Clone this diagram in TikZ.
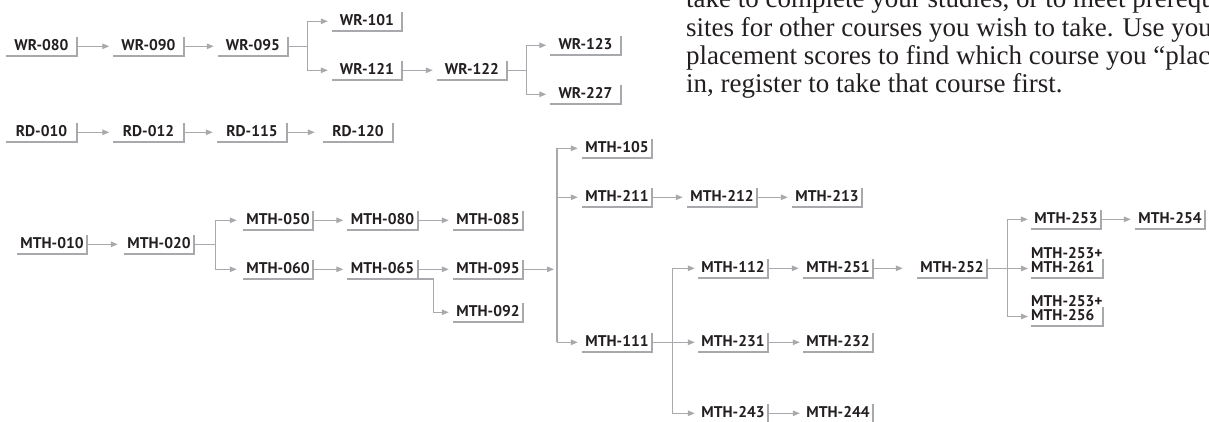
\documentclass[tikz,border=0pt]{standalone}
\usepackage{fontspec}
\usetikzlibrary{arrows.meta, calc}
\newfontfamily\coursefont{PT Sans Bold}
\newfontfamily\bodyfont{Liberation Serif}
\definecolor{inkdark}{HTML}{231F20}
\definecolor{rulegray}{HTML}{A7A9AC}

\begin{document}
\begin{tikzpicture}[
    x=1pt, y=-1pt,
    every node/.style={inner sep=0pt},
    rule/.style={draw=rulegray, line width=2pt},
    link/.style={draw=rulegray, line width=1.3pt, -{Triangle[length=7pt,width=5.5pt]}, shorten >=4pt},
    rulebox/.style={anchor=south, font=\coursefont\fontsize{15.5}{18}\selectfont, text=inkdark,
      minimum width=70pt,
      append after command={\pgfextra{\draw[rule] ([yshift=19pt]\tikzlastnode.south east)
        -- (\tikzlastnode.south east) -- (\tikzlastnode.south west);}}},
    course/.style={rulebox, minimum height=19pt, text height=11pt, text depth=2pt},
    pair/.style={rulebox, align=left, inner ysep=5pt},
    leaf/.style={anchor=base west, font=\bodyfont\fontsize{27}{28}\selectfont, text=inkdark},
  ]
  \useasboundingbox (0,0) rectangle (1209,422);

  % note text, cut off by the page edge
  \node[leaf] (note1) at (686,8) {take to complete your studies, or to meet prerequi-};
  \node[leaf] (note2) at (686,37) {sites for other courses you wish to take. Use your};
  \node[leaf] (note3) at (686,65) {placement scores to find which course you “placed”};
  \node[leaf] (note4) at (686,93) {in, register to take that course first.};

  % writing
  \node[course] (wr080) at (41.5,56) {WR-080};
  \node[course] (wr090) at (148.5,56) {WR-090};
  \node[course] (wr095) at (253,56) {WR-095};
  \node[course] (wr101) at (367,31) {WR-101};
  \node[course] (wr121) at (367,80) {WR-121};
  \node[course] (wr122) at (472,80) {WR-122};
  \node[course] (wr123) at (585.5,55) {WR-123};
  \node[course] (wr227) at (585.5,104) {WR-227};
  \draw[link] (wr080) -- (wr090);
  \draw[link] (wr090) -- (wr095);
  \draw[link] (wr095.east) -- ++(19,0) |- (wr101.west);
  \draw[link] (wr095.east) -- ++(19,0) |- (wr121.west);
  \draw[link] (wr121) -- (wr122);
  \draw[link] (wr122.east) -- ++(19,0) |- (wr123.west);
  \draw[link] (wr122.east) -- ++(19,0) |- (wr227.west);

  % reading
  \node[course] (rd010) at (41.5,142) {RD-010};
  \node[course] (rd012) at (148.5,142) {RD-012};
  \node[course] (rd115) at (252,142) {RD-115};
  \node[course] (rd120) at (358,142) {RD-120};
  \draw[link] (rd010) -- (rd012);
  \draw[link] (rd012) -- (rd115);
  \draw[link, shorten >=8pt] (rd115) -- (rd120);

  % math
  \node[course] (m010) at (52,254) {MTH-010};
  \node[course] (m020) at (159,254) {MTH-020};
  \node[course] (m050) at (278,230) {MTH-050};
  \node[course] (m060) at (278,279) {MTH-060};
  \node[course] (m080) at (382.5,230) {MTH-080};
  \node[course] (m065) at (382.5,279) {MTH-065};
  \node[course] (m085) at (488,230) {MTH-085};
  \node[course] (m095) at (488,279) {MTH-095};
  \node[course] (m092) at (488,322) {MTH-092};
  \node[course] (m105) at (617,158) {MTH-105};
  \node[course] (m211) at (617,207) {MTH-211};
  \node[course] (m212) at (722,207) {MTH-212};
  \node[course] (m213) at (827,207) {MTH-213};
  \node[course] (m111) at (617,352) {MTH-111};
  \node[course] (m112) at (733,278) {MTH-112};
  \node[course] (m251) at (838,278) {MTH-251};
  \node[course] (m252) at (952,278) {MTH-252};
  \node[course] (m231) at (733,352) {MTH-231};
  \node[course] (m232) at (838,352) {MTH-232};
  \node[course] (m243) at (733,423) {MTH-243};
  \node[course] (m244) at (838,423) {MTH-244};
  \node[course] (m253) at (1066,229) {MTH-253};
  \node[course] (m254) at (1170,229) {MTH-254};
  \node[pair, anchor=south west] (m261) at (1031,278) {MTH-253+\\[-4pt]MTH-261};
  \node[pair, anchor=south west] (m256) at (1031,326) {MTH-253+\\[-4pt]MTH-256};
  \coordinate (spine) at (557,0);

  \draw[link, shorten >=6pt] (m010) -- (m020);
  \draw[link, shorten >=6pt] (m020.east) -- ++(21,0) |- (m050.west);
  \draw[link, shorten >=6pt] (m020.east) -- ++(21,0) |- (m060.west);
  \draw[link] (m050) -- (m080);
  \draw[link] (m080) -- (m085);
  \draw[link] (m060) -- (m065);
  \draw[link] (m065) -- (m095);
  \draw[link] (m065.south east) -- ++(16,0) |- (m092.west);
  \draw[link, shorten >=3pt] (m095.east) -- (m095.east -| spine);
  \draw[link] (spine |- m111.west) |- (m105.west);
  \draw[link] (spine |- m111.west) |- (m211.west);
  \draw[link] (spine |- m111.west) -- (m111.west);
  \draw[link] (m211) -- (m212);
  \draw[link] (m212) -- (m213);
  \draw[link, shorten >=3pt] (m111.east) -- ++(20,0) |- (m112.west);
  \draw[link, shorten >=3pt] (m111) -- (m231);
  \draw[link, shorten >=3pt] (m111.east) -- ++(20,0) |- (m243.west);
  \draw[link] (m112) -- (m251);
  \draw[link, shorten >=14pt] (m251) -- (m252);
  \draw[link, shorten >=3pt] (m231) -- (m232);
  \draw[link, shorten >=3pt] (m243) -- (m244);
  \draw[link, shorten >=3pt] (m252.east) -- ++(20,0) |- (m253.west);
  \draw[link, shorten >=3pt] (m252.east) -- ++(20,0) |- ([yshift=9.5pt]m261.south west);
  \draw[link, shorten >=3pt] (m252.east) -- ++(20,0) |- ([yshift=9.5pt]m256.south west);
  \draw[link] (m253) -- (m254);
\end{tikzpicture}
\end{document}
